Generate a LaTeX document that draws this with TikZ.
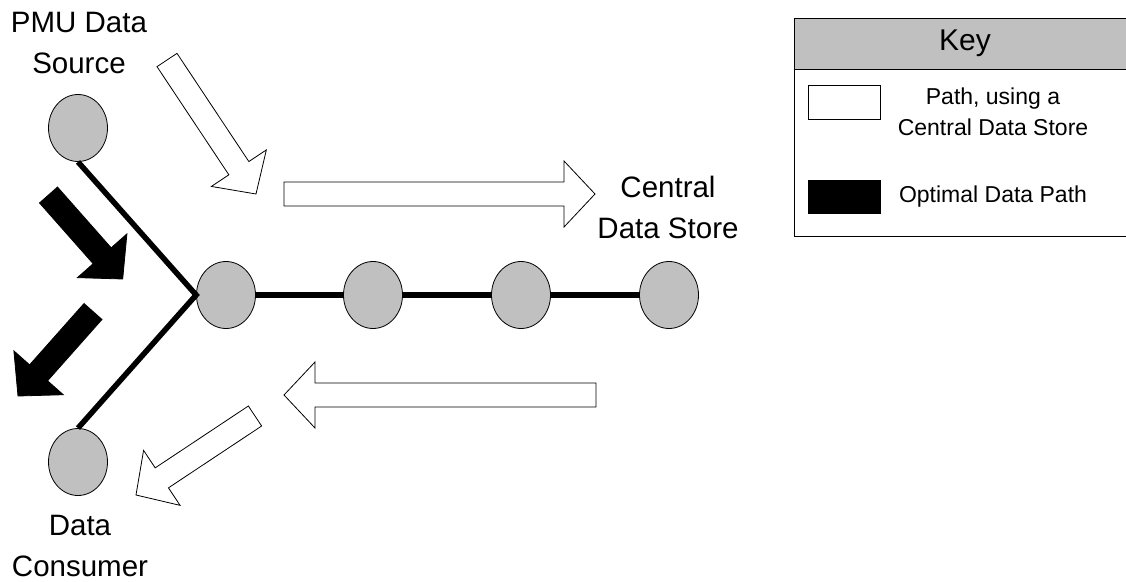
\documentclass[tikz,border=0pt]{standalone}
\usepackage{fontspec}
\setmainfont{Liberation Sans}
\usetikzlibrary{shapes.geometric,calc}

\definecolor{nodegray}{HTML}{C0C0C0}

\tikzset{
  station/.style={ellipse,draw,fill=nodegray,line width=0.8pt,
    minimum width=59pt,minimum height=67pt,inner sep=0pt},
  link/.style={line width=5.5pt},
  bigtext/.style={align=center,font=\fontsize{29.5}{41}\selectfont},
  keytext/.style={align=center,font=\fontsize{23}{31}\selectfont},
  storepath/.style={draw,fill=white,line width=0.8pt},
  bestpath/.style={draw,fill=black,line width=0.8pt}
}

% block arrow: style, start, tip
\newcommand{\blockarrow}[3]{%
  \coordinate (ba-h) at ($(#3)!31pt!(#2)$);
  \path[#1] ($(#2)!12pt!90:(#3)$) -- ($(ba-h)!12pt!90:(#3)$)
    -- ($(ba-h)!33pt!90:(#3)$) -- (#3) -- ($(ba-h)!33pt!-90:(#3)$)
    -- ($(ba-h)!12pt!-90:(#3)$) -- ($(#2)!12pt!-90:(#3)$) -- cycle;}

\begin{document}
\begin{tikzpicture}[x=1pt,y=-1pt]
\useasboundingbox (0,0) rectangle (1126,581);

\node[station] (src) at (78,128) {};
\node[station] (n1) at (226,295) {};
\node[station] (n2) at (373,295) {};
\node[station] (n3) at (521,295) {};
\node[station] (n4) at (669,295) {};
\node[station] (dst) at (78,462) {};

\draw[link] (src.south) -- (n1.west) -- (dst.north);
\draw[link] (n1) -- (n2);
\draw[link] (n2) -- (n3);
\draw[link] (n3) -- (n4);

\node[bigtext] (srclabel) at (79,43) {PMU Data\\Source};
\node[bigtext] (storelabel) at (668,207) {Central\\Data Store};
\node[bigtext] (dstlabel) at (80,546) {Data\\Consumer};

\coordinate (a1s) at (48.5,195);  \coordinate (a1t) at (122.7,279);
\coordinate (a2s) at (93,311.5);  \coordinate (a2t) at (18,396);
\coordinate (a3s) at (167,60);    \coordinate (a3t) at (256,194);
\coordinate (a4s) at (284,194);   \coordinate (a4t) at (595,194);
\coordinate (a5s) at (596,395);   \coordinate (a5t) at (284,395);
\coordinate (a6s) at (255,416);   \coordinate (a6t) at (136,495);

\blockarrow{bestpath}{a1s}{a1t}
\blockarrow{bestpath}{a2s}{a2t}
\blockarrow{storepath}{a3s}{a3t}
\blockarrow{storepath}{a4s}{a4t}
\blockarrow{storepath}{a5s}{a5t}
\blockarrow{storepath}{a6s}{a6t}

% key
\draw[fill=nodegray,line width=1pt] (794,18) rectangle (1132,69);
\draw[line width=1pt] (794,69) rectangle (1132,236);
\node[font=\fontsize{30}{36}\selectfont] (keytitle) at (965,43) {Key};
\draw[storepath] (808,85) rectangle (880,119);
\draw[bestpath] (808,180) rectangle (880,213);
\node[keytext] (keystore) at (993,112) {Path, using a\\Central Data Store};
\node[keytext] (keybest) at (993,197) {Optimal Data Path};
\end{tikzpicture}
\end{document}
